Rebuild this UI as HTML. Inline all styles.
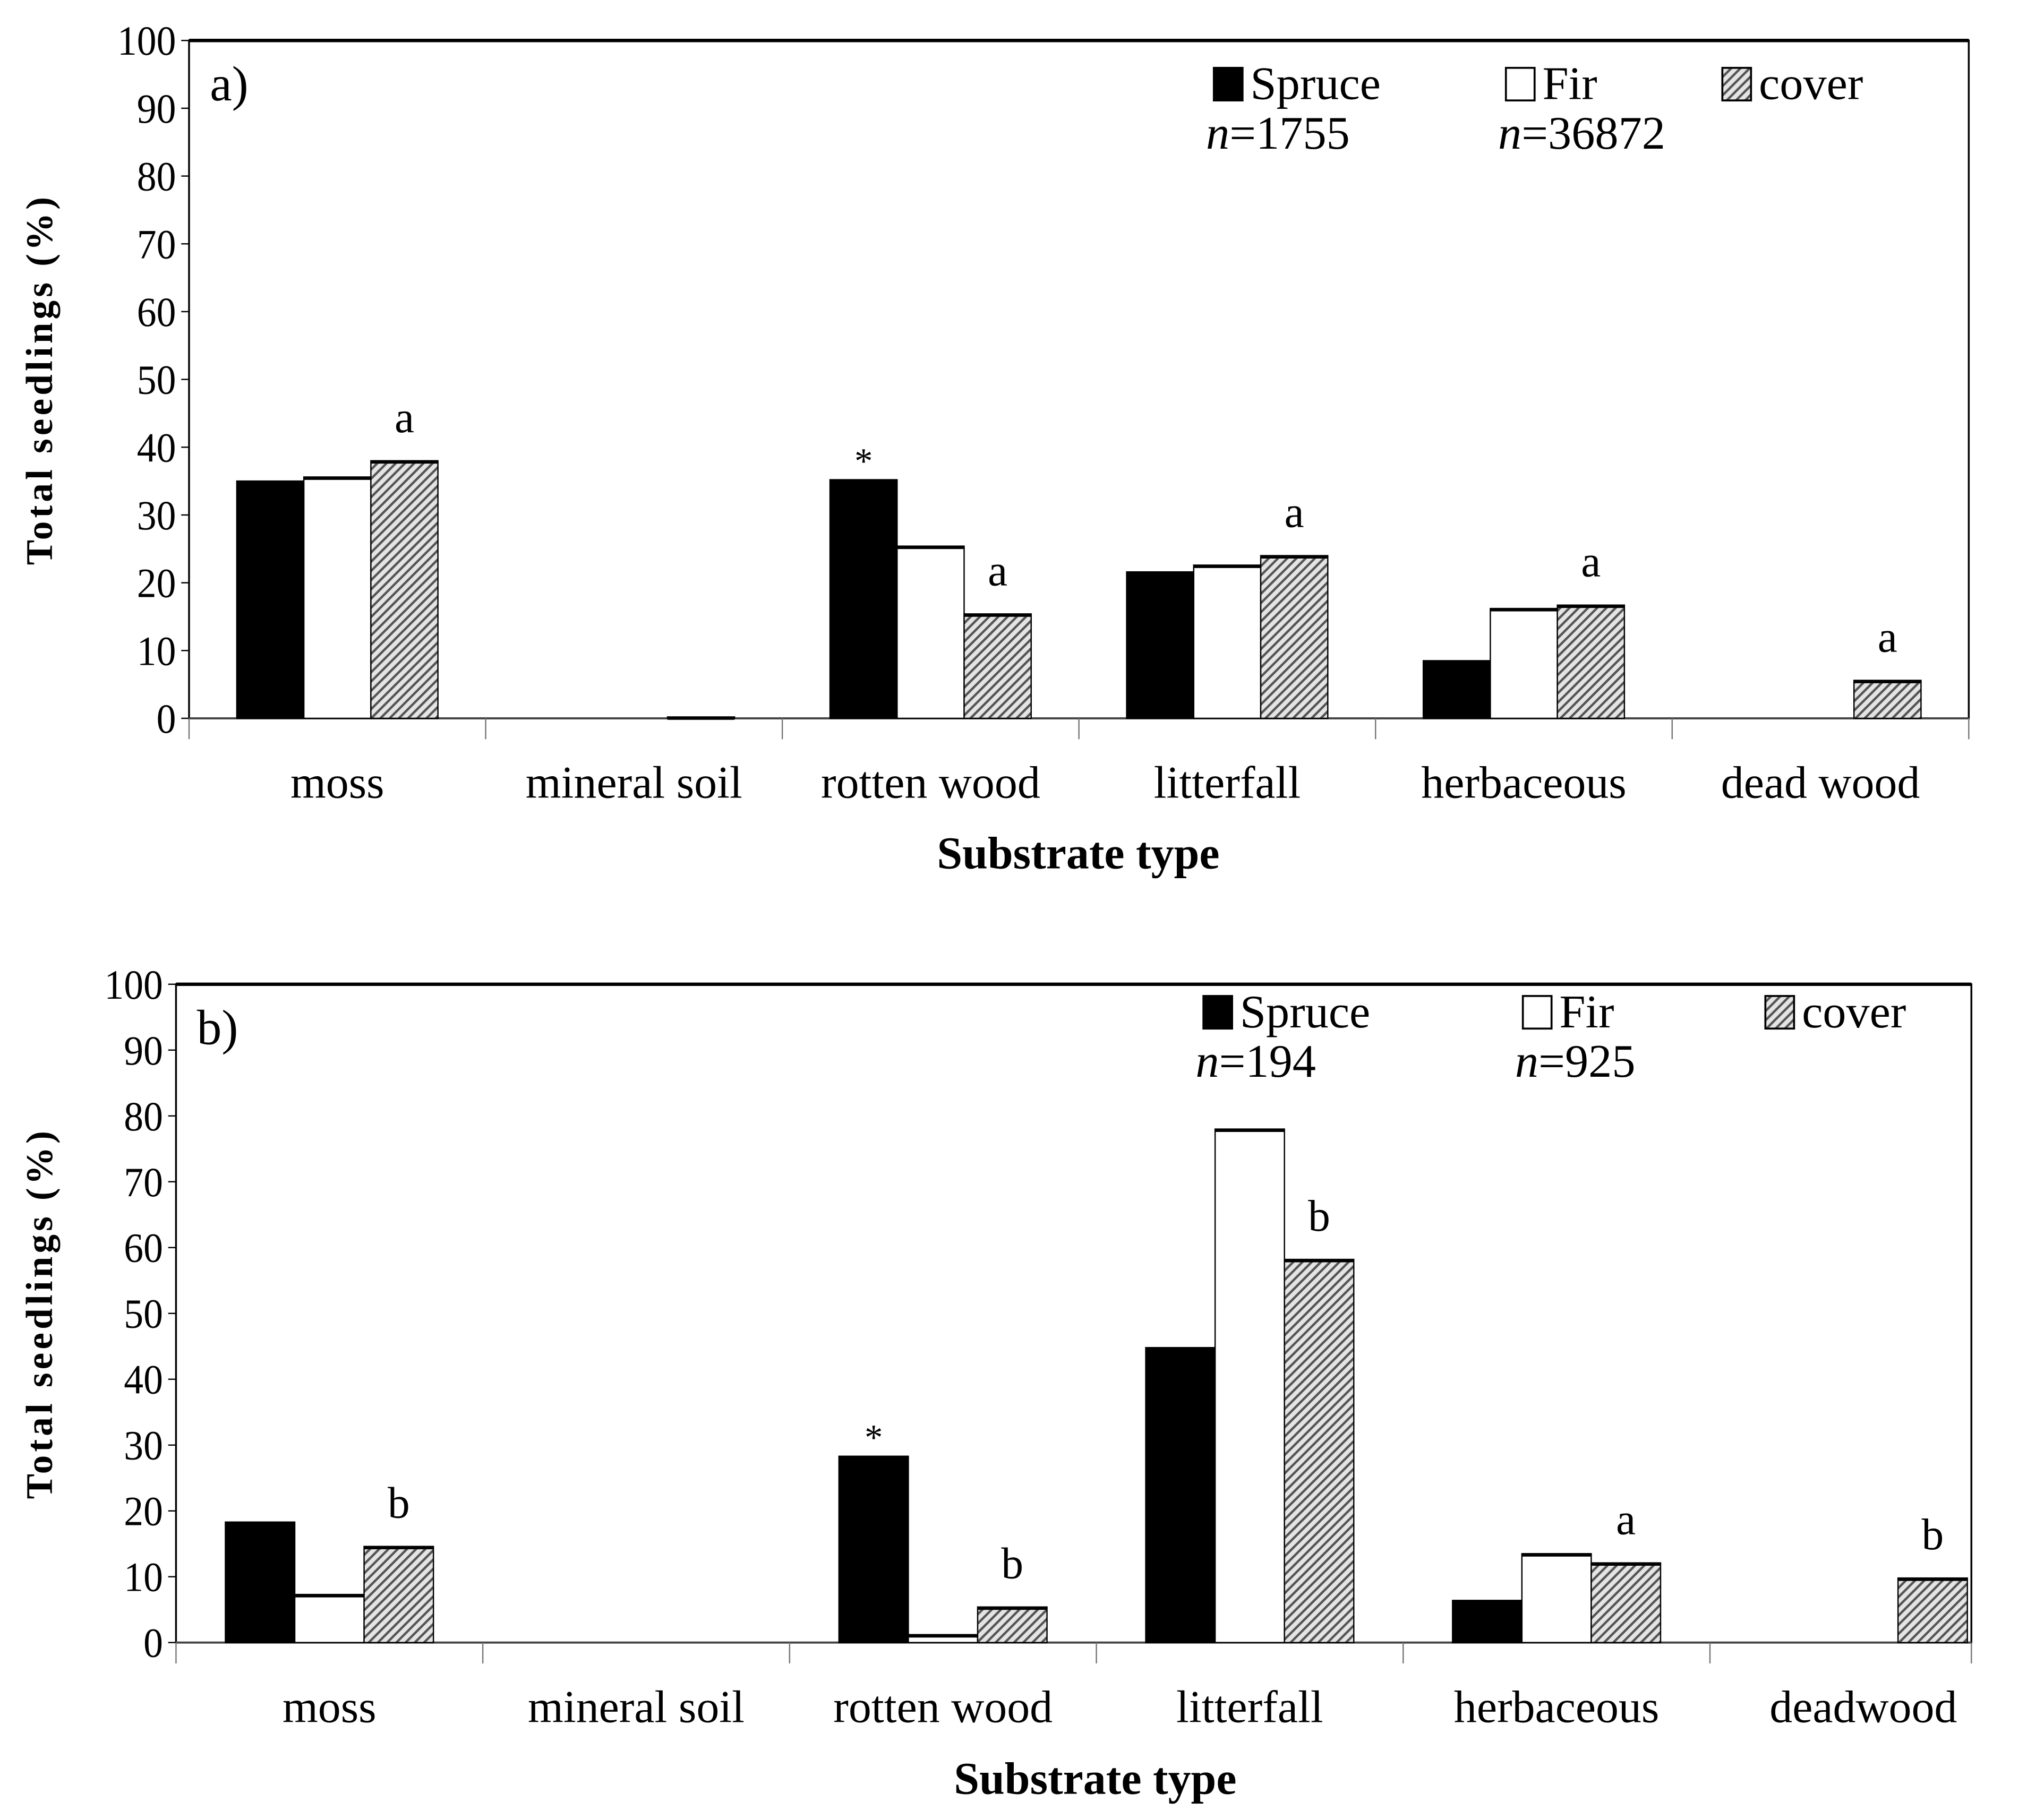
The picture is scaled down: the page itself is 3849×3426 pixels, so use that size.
<!DOCTYPE html>
<html><head><meta charset="utf-8"><style>
html,body{margin:0;padding:0;background:#fff}
svg{display:block}
text{font-family:"Liberation Serif",serif;fill:#000}
</style></head><body>
<svg id="chart" width="3849" height="3426" viewBox="0 0 1567.7 1395.3" xmlns="http://www.w3.org/2000/svg">
<defs>
<pattern id="hatch" patternUnits="userSpaceOnUse" width="5" height="5" patternTransform="rotate(-45)">
<rect width="5" height="5" fill="#e4e4e4"/>
<rect x="0" y="0" width="5" height="1.8" fill="#555"/>
</pattern>
</defs>
</svg>
<script>
const categoriesA = ["moss","mineral soil","rotten wood","litterfall","herbaceous","dead wood"];
const categoriesB = ["moss","mineral soil","rotten wood","litterfall","herbaceous","deadwood"];
const spruceA = [35, 0, 35.2, 21.6, 8.5, 0];
const firA = [35.6, 0, 25.4, 22.6, 16.2, 0];
const coverA = [38, 0.2, 15.4, 24, 16.7, 5.6];
const spruceB = [18.3, 0, 28.3, 44.8, 6.4, 0];
const firB = [7.3, 0, 1.2, 78, 13.5, 0];
const coverB = [14.6, 0, 5.4, 58.2, 12.1, 9.8];
const lettersA = ["a", "", "a", "a", "a", "a"];
const lettersB = ["b", "", "b", "b", "a", "b"];
const starsA = ["", "", "*", "", "", ""];
const starsB = ["", "", "*", "", "", ""];
const yTicks = [0,10,20,30,40,50,60,70,80,90,100];

const NS = "http://www.w3.org/2000/svg";
const svg = document.getElementById("chart");
function mk(tag, attrs, parent, txt){
  const e = document.createElementNS(NS, tag);
  for (const k in attrs) e.setAttribute(k, attrs[k]);
  if (txt !== undefined) e.textContent = txt;
  (parent || svg).appendChild(e);
  return e;
}

function panel(cfg){
  const g = mk("g", {});
  
  
  const L = cfg.left, R = cfg.right, T = cfg.top, B = cfg.bottom;
  const y = v => B - (v/100)*(B-T);
  const cw = cfg.cw || (R-L)/cfg.cats.length;
  const bw = cw*0.226;
  const x0 = i => L + i*cw + (cw - 3*bw)/2;
  const fr = mk("rect", {x:L, y:T, width:R-L, height:B-T, fill:"none", stroke:"#000", "stroke-width":1.4}, g);
  
  
  mk("line", {x1:L, x2:R, y1:T, y2:T, stroke:"#000", "stroke-width":2.6}, g);
  yTicks.forEach(t => {
    mk("line", {x1:L-6, x2:L, y1:y(t), y2:y(t), stroke:"#000", "stroke-width":1}, g);
    const tl = mk("text", {x:L-10, y:y(t)+11, "text-anchor":"end", "font-size":32, "textLength": (String(t).length*15), "lengthAdjust":"spacingAndGlyphs"}, g, t);
    
    
  });
  mk("line", {x1:L, x2:R, y1:B, y2:B, stroke:"#444", "stroke-width":1.6}, g);
  for (let i=0;i<=cfg.cats.length;i++){
    const tx = Math.min(L+i*cw, R);
    mk("line", {x1:tx, x2:tx, y1:B, y2:B+16, stroke:"#777", "stroke-width":1}, g);
  }
  const series = [[cfg.spruce,"#000"],[cfg.fir,"#fff"],[cfg.cover,"url(#hatch)"]];
  const names = ["spruce","fir","cover"];
  cfg.cats.forEach((c,i) => {
    series.forEach((s,j) => {
      const v = s[0][i];
      if (v <= 0) return;
      const b = mk("rect", {x:x0(i)+j*bw, y:y(v), width:bw, height:B-y(v), fill:s[1], stroke:"#000", "stroke-width":1}, g);
      
      
      mk("line", {x1:x0(i)+j*bw, x2:x0(i)+(j+1)*bw, y1:y(v)+1, y2:y(v)+1, stroke:"#000", "stroke-width":2.4}, g);
    });
    if (cfg.letters[i]){
      const lt = mk("text", {x:x0(i)+2.5*bw, y:y(cfg.cover[i])-22, "text-anchor":"middle", "font-size":34}, g, cfg.letters[i]);
      
      
    }
    if (cfg.stars[i]){
      const st = mk("text", {x:x0(i)+0.5*bw, y:y(cfg.spruce[i])-5, "text-anchor":"middle", "font-size":28}, g, cfg.stars[i]);
      
      
    }
    const cl = mk("text", {x:L+(i+0.5)*cw, y:cfg.catY, "text-anchor":"middle", "font-size":35}, g, c);
    
    
  });
  const pl = mk("text", {x:L+16, y:T+46, "font-size":38}, g, cfg.label);
  
  
  const xt = mk("text", {x:cfg.xtX, y:cfg.xtY, "text-anchor":"middle", "font-size":35, "font-weight":"bold"}, g, "Substrate type");
  
  
  const yt = mk("text", {x:0, y:0, "text-anchor":"middle", "font-size":29, "font-weight":"bold", "letter-spacing":"2.5",
    transform:"translate(40," + ((T+B)/2) + ") rotate(-90)"}, g, "Total seedlings (%)");
  
  
  const lg = cfg.leg;
  const fills = ["#000","#fff","url(#hatch)"];
  const lnames = ["Spruce","Fir","cover"];
  lg.xs.forEach((lx,k) => {
    const sw = mk("rect", {x:lx, y:lg.y, width:22, height:25, fill:fills[k], stroke:"#000", "stroke-width":1.5}, g);
    
    
    const tx = mk("text", {x:lx+28, y:lg.y+24, "font-size":36}, g, lnames[k]);
    
    
  });
  lg.ns.forEach((nv,k) => {
    const t = mk("text", {x:lg.xs[k]-6, y:lg.y+62, "font-size":36}, g);
    
    
    mk("tspan", {"font-style":"italic"}, t, "n");
    mk("tspan", {}, t, "=" + nv);
  });
}

panel({name:"panel-a", label:"a)", left:145, right:1510, top:31, bottom:551,
  cats:categoriesA, spruce:spruceA, fir:firA, cover:coverA, letters:lettersA, stars:starsA,
  catY:612, xtY:666, xtX:827, leg:{xs:[931,1155,1321], y:52, ns:["1755","36872"]}});
panel({name:"panel-b", label:"b)", left:135, right:1512, top:755, bottom:1260, cw:235.3,
  cats:categoriesB, spruce:spruceB, fir:firB, cover:coverB, letters:lettersB, stars:starsB,
  catY:1321, xtY:1376, xtX:840, leg:{xs:[923,1168,1354], y:764, ns:["194","925"]}});
</script>
</body></html>
